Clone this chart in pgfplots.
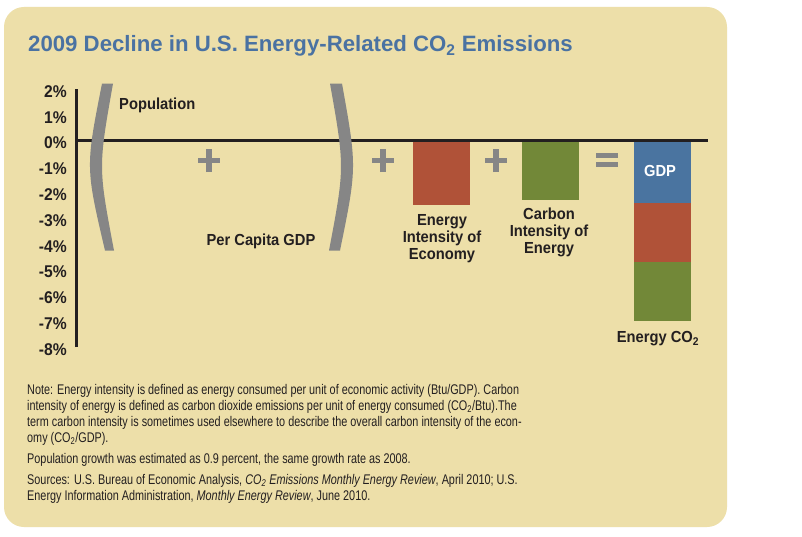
\documentclass[border=0pt]{standalone}
\usepackage{fontspec}
\setmainfont{Liberation Sans}
\newfontfamily\labelfont[FakeStretch=0.92]{Liberation Sans}
\newfontfamily\notefont[FakeStretch=0.775]{Liberation Sans}
\usepackage{pgfplots}
\pgfplotsset{compat=1.18}
\definecolor{beige}{RGB}{237,223,169}
\definecolor{titleblue}{RGB}{74,114,162}
\definecolor{txt}{RGB}{35,31,32}
\definecolor{barblue}{RGB}{74,116,160}
\definecolor{barred}{RGB}{176,82,56}
\definecolor{bargreen}{RGB}{114,136,56}
\definecolor{pgray}{RGB}{134,134,134}
\newcommand\lbl{\labelfont\bfseries\fontsize{16}{17}\selectfont}
\newcommand\nt{\notefont\fontsize{14}{16}\selectfont}
\begin{document}
\begin{tikzpicture}[x=1pt,y=1pt]
\fill[white] (0,0) rectangle (802,536);
\fill[beige, rounded corners=20pt] (4,9) rectangle (727,529);
\node[anchor=base west, inner sep=0pt, text=titleblue, font=\bfseries\fontsize{22.2}{26}\selectfont] at (28,484) {2009 Decline in U.S. Energy-Related CO\textsubscript{2} Emissions};
\begin{axis}[
  at={(76pt,189pt)}, anchor=south west,
  scale only axis, width=632pt, height=258pt,
  xmin=76, xmax=708, ymin=-8, ymax=2,
  clip=false,
  axis x line=none, axis y line=left,
  y axis line style={line width=3pt,-,color=txt},
  ytick={-8,-7,-6,-5,-4,-3,-2,-1,0,1,2},
  yticklabels={-8\%,-7\%,-6\%,-5\%,-4\%,-3\%,-2\%,-1\%,0\%,1\%,2\%},
  major tick length=0pt,
  yticklabel style={font=\labelfont\bfseries\fontsize{17}{17}\selectfont, text=txt, anchor=east, inner sep=0pt, xshift=-9pt, yshift=-2.5pt},
]
% single bars
\addplot[ybar, bar width=57, bar shift=0pt, fill=barred, draw=none] coordinates {(441.5,-2.5)};
\addplot[ybar, bar width=57, bar shift=0pt, fill=bargreen, draw=none] coordinates {(550,-2.3)};
% stacked bar (cumulative values)
\addplot[ybar, bar width=57, bar shift=0pt, fill=bargreen, draw=none] coordinates {(662.5,-7.0)};
\addplot[ybar, bar width=57, bar shift=0pt, fill=barred, draw=none] coordinates {(662.5,-4.7)};
\addplot[ybar, bar width=57, bar shift=0pt, fill=barblue, draw=none] coordinates {(662.5,-2.4)};
% zero line
\draw[line width=3.2pt, color=txt] (axis cs:76,0) -- (axis cs:708,0);
% parentheses
\fill[pgray] (axis cs:102,2.21) .. controls (axis cs:85.5,-1.03) .. (axis cs:105,-4.26) -- (axis cs:114,-4.26) .. controls (axis cs:98.2,-1.03) .. (axis cs:113,2.21) -- cycle;
\fill[pgray] (axis cs:330,2.21) .. controls (axis cs:344.8,-1.03) .. (axis cs:329,-4.26) -- (axis cs:340,-4.26) .. controls (axis cs:357,-1.03) .. (axis cs:342,2.21) -- cycle;
% plus signs
\draw[pgray, line width=5.5pt] ([xshift=-11pt]axis cs:209,-0.775) -- ([xshift=11pt]axis cs:209,-0.775);
\draw[pgray, line width=5.5pt] ([yshift=-11.5pt]axis cs:209,-0.775) -- ([yshift=11.5pt]axis cs:209,-0.775);
\draw[pgray, line width=5.5pt] ([xshift=-11pt]axis cs:383,-0.775) -- ([xshift=11pt]axis cs:383,-0.775);
\draw[pgray, line width=5.5pt] ([yshift=-11.5pt]axis cs:383,-0.775) -- ([yshift=11.5pt]axis cs:383,-0.775);
\draw[pgray, line width=5.5pt] ([xshift=-11pt]axis cs:496,-0.775) -- ([xshift=11pt]axis cs:496,-0.775);
\draw[pgray, line width=5.5pt] ([yshift=-11.5pt]axis cs:496,-0.775) -- ([yshift=11.5pt]axis cs:496,-0.775);
% equals
\draw[pgray, line width=5.5pt] ([xshift=-11pt]axis cs:607,-0.58) -- ([xshift=11pt]axis cs:607,-0.58);
\draw[pgray, line width=5.5pt] ([xshift=-11pt]axis cs:607,-0.93) -- ([xshift=11pt]axis cs:607,-0.93);
% labels
\node[anchor=west, inner sep=0pt, font=\lbl, text=txt] at (axis cs:119,1.36) {Population};
\node[inner sep=0pt, font=\lbl, text=txt] at (axis cs:261,-3.91) {Per Capita GDP};
\node[inner sep=0pt, font=\lbl, text=txt, align=center] at (axis cs:442,-3.80) {Energy\\Intensity of\\Economy};
\node[inner sep=0pt, font=\lbl, text=txt, align=center] at (axis cs:549,-3.57) {Carbon\\Intensity of\\Energy};
\node[inner sep=0pt, font=\lbl, text=white] at (axis cs:660,-1.16) {GDP};
\node[anchor=base, inner sep=0pt, font=\lbl, text=txt] at (axis cs:658,-7.83) {Energy CO\textsubscript{2}};
\end{axis}
% notes
\begin{scope}[every node/.style={anchor=base west, inner sep=0pt, font=\nt, text=txt}]
\node at (27,142) {Note: Energy intensity is defined as energy consumed per unit of economic activity (Btu/GDP). Carbon};
\node at (27,126) {intensity of energy is defined as carbon dioxide emissions per unit of energy consumed (CO\textsubscript{2}/Btu).The};
\node at (27,110) {term carbon intensity is sometimes used elsewhere to describe the overall carbon intensity of the econ-};
\node at (27,94) {omy (CO\textsubscript{2}/GDP).};
\node at (27,72.5) {Population growth was estimated as 0.9 percent, the same growth rate as 2008.};
\node at (27,52) {Sources: U.S. Bureau of Economic Analysis, \textit{CO\textsubscript{2} Emissions Monthly Energy Review}, April 2010; U.S.};
\node at (27,35.5) {Energy Information Administration, \textit{Monthly Energy Review}, June 2010.};
\end{scope}
\end{tikzpicture}
\end{document}
